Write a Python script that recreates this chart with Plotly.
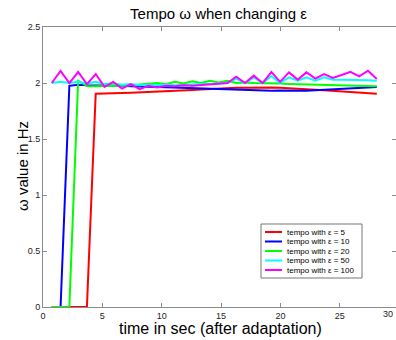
import plotly.graph_objects as go

# ---- data ----
time_s = [0.74, 1.48, 2.22, 2.96, 3.70, 4.44, 5.18, 5.92, 6.66, 7.40,
          8.14, 8.88, 9.62, 10.36, 11.10, 11.84, 12.58, 13.32, 14.06, 14.80,
          15.54, 16.28, 17.02, 17.76, 18.50, 19.24, 19.98, 20.72, 21.46, 22.20,
          22.94, 23.68, 24.42, 25.16, 25.90, 26.64, 27.38, 28.12]

eps_5 = [0, 0, 0, 0, 0, 1.905, 1.905, 1.91, 1.91, 1.912,
         1.915, 1.918, 1.92, 1.925, 1.93, 1.932, 1.937, 1.942, 1.947, 1.952,
         1.955, 1.957, 1.958, 1.96, 1.96, 1.96, 1.958, 1.955, 1.95, 1.945,
         1.94, 1.935, 1.93, 1.925, 1.92, 1.915, 1.91, 1.905]

eps_10 = [0, 0, 1.975, 1.985, 1.98, 1.98, 1.98, 1.975, 1.975, 1.97,
          1.97, 1.968, 1.965, 1.963, 1.96, 1.96, 1.958, 1.955, 1.953, 1.95,
          1.945, 1.94, 1.937, 1.935, 1.932, 1.93, 1.932, 1.93, 1.932, 1.93,
          1.935, 1.94, 1.945, 1.95, 1.953, 1.957, 1.96, 1.965]

eps_20 = [0, 0, 0, 2.02, 1.973, 1.97, 1.97, 1.975, 1.975, 1.98,
          1.985, 1.99, 2.0, 1.99, 2.01, 1.995, 2.015, 2.0, 2.02, 2.005,
          2.02, 2.0, 2.005, 2.0, 2.0, 1.998, 1.995, 1.992, 1.99, 1.988,
          1.985, 1.983, 1.98, 1.978, 1.975, 1.973, 1.972, 1.97]

eps_50 = [2.0, 2.01, 2.0, 2.01, 1.995, 2.01, 1.99, 1.995, 1.985, 1.99,
          1.98, 1.985, 1.98, 1.985, 1.98, 1.985, 1.985, 1.99, 1.99, 1.995,
          2.0, 2.04, 2.0, 2.05, 2.0, 2.06, 2.0, 2.05, 2.02, 2.05,
          2.02, 2.05, 2.03, 2.03, 2.03, 2.025, 2.025, 2.02]

eps_100 = [2.0, 2.107, 2.0, 2.098, 1.99, 2.08, 1.965, 2.01, 1.95, 1.99,
           1.945, 1.975, 1.96, 1.975, 1.97, 1.98, 1.975, 1.98, 1.985, 1.99,
           2.0, 2.057, 2.0, 2.066, 2.0, 2.098, 2.01, 2.095, 2.03, 2.095,
           2.04, 2.08, 2.045, 2.072, 2.10, 2.06, 2.11, 2.035]

series_names = ["tempo with \u03b5 = 5", "tempo with \u03b5 = 10", "tempo with \u03b5 = 20",
                "tempo with \u03b5 = 50", "tempo with \u03b5 = 100"]
series_values = [eps_5, eps_10, eps_20, eps_50, eps_100]
colors = ["#ff0000", "#0000ff", "#00ff00", "#00ffff", "#ff00ff"]

x_ticks = [0, 5, 10, 15, 20, 25, 30]
y_ticks = [0, 0.5, 1, 1.5, 2, 2.5]
y_tick_labels = ["0", "0.5", "1", "1.5", "2", "2.5"]

FONT = "Liberation Sans, Arial, sans-serif"
AX = "#8a8a8a"

fig = go.Figure()
for name, vals, col in zip(series_names, series_values, colors):
    fig.add_trace(go.Scatter(x=time_s, y=vals, mode="lines", name=name,
                             line=dict(color=col, width=2), showlegend=False))

W, H = 396, 340
L, T, B = 43, 27, 33
plot_w = W - L
plot_h = H - T - B
X_SCALE = 11.87  # px per second in the reference

fig.update_layout(
    width=W, height=H,
    margin=dict(l=L, r=0, t=T, b=B, pad=0),
    paper_bgcolor="white", plot_bgcolor="white",
    font=dict(family=FONT, color="black"),
    title=dict(text="Tempo \u03c9 when changing \u03b5", x=(L + plot_w / 2 - 1) / W, xanchor="center",
               y=1 - 14 / H, yanchor="middle", font=dict(size=15, family=FONT, color="black")),
    xaxis=dict(range=[0, plot_w / X_SCALE], tickvals=x_ticks, ticktext=[str(v) for v in x_ticks],
               showgrid=False, zeroline=False, showline=True, linecolor=AX, linewidth=1,
               mirror="ticks", ticks="inside", ticklen=4, tickcolor=AX,
               tickfont=dict(size=9, family=FONT, color="#222")),
    yaxis=dict(range=[0, 2.5], tickvals=y_ticks, ticktext=y_tick_labels,
               showgrid=False, zeroline=False, showline=True, linecolor=AX, linewidth=1,
               mirror="ticks", ticks="inside", ticklen=4, tickcolor=AX,
               tickfont=dict(size=9, family=FONT, color="#222")),
)

def px_x(p):
    return (p - L) / plot_w

def px_y(p):
    return (H - B - p) / plot_h

# last tick label ("30"), kept inside the picture at the right edge
fig.add_annotation(text=str(x_ticks[-1]), xref="paper", yref="paper",
                   x=px_x(W - 1), y=px_y(314), showarrow=False,
                   xanchor="right", yanchor="middle",
                   font=dict(size=9, family=FONT, color="#222"))

# axis titles
fig.add_annotation(text="time in sec (after adaptation)", xref="paper", yref="paper",
                   x=px_x(220), y=px_y(328), showarrow=False, xanchor="center", yanchor="middle",
                   font=dict(size=16, family=FONT, color="black"))
fig.add_annotation(text="\u03c9 value in Hz", xref="paper", yref="paper",
                   x=px_x(22), y=px_y(166), showarrow=False, textangle=-90,
                   xanchor="center", yanchor="middle",
                   font=dict(size=15, family=FONT, color="black"))

# custom legend
fig.add_shape(type="rect", xref="paper", yref="paper",
              x0=px_x(261), x1=px_x(362), y0=px_y(278), y1=px_y(224),
              line=dict(color="#777", width=1), fillcolor="white", layer="above")
entry_y = [232, 241.5, 251, 260.5, 270]
for name, col, py in zip(series_names, colors, entry_y):
    fig.add_shape(type="line", xref="paper", yref="paper",
                  x0=px_x(265), x1=px_x(282), y0=px_y(py), y1=px_y(py),
                  line=dict(color=col, width=2), layer="above")
    fig.add_annotation(text=name, xref="paper", yref="paper", x=px_x(285), y=px_y(py),
                       showarrow=False, xanchor="left", yanchor="middle",
                       font=dict(size=8, family=FONT, color="black"))

fig.write_html("out.html")
